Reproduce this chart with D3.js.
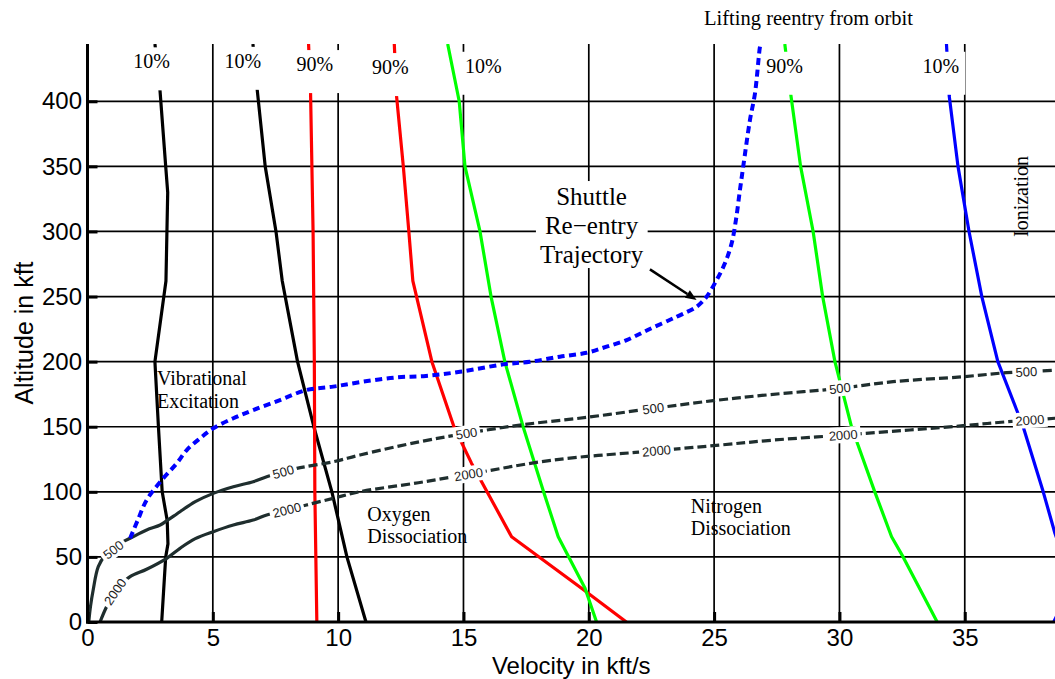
<!DOCTYPE html>
<html>
<head>
<meta charset="utf-8">
<script src="https://cdn.jsdelivr.net/npm/d3@7"></script>
<style>
  body { margin: 0; background: #fff; }
  svg { display: block; }
</style>
</head>
<body>
<svg id="chart" width="1055" height="679"></svg>
<script>
// ---- Axis ticks -------------------------------------------------------
const velocityTicks = [0, 5, 10, 15, 20, 25, 30, 35];           // kft/s
const altitudeTicks = [0, 50, 100, 150, 200, 250, 300, 350, 400]; // kft

// ---- Boundary curves: [velocity kft/s, altitude kft] ------------------
const vibration10 = [[2.96,0],[3.12,50],[3.21,60],[3.18,78],[2.98,100],[2.83,150],[2.69,200],[3.13,262],[3.2,330],[3.12,350],[2.89,409],[2.69,444]];
const vibration90 = [[9.15,0],[9.07,100],[9.05,200],[9.0,300],[8.9,406],[8.82,444]];
const oxygen10    = [[11.11,0],[10.35,50],[9.75,100],[9.03,150],[8.38,200],[7.77,262],[7.52,300],[7.09,350],[6.77,409],[6.6,444]];
const oxygen90    = [[21.5,0],[19.71,25.9],[16.92,65.5],[15.32,122],[14.62,150],[13.74,200],[12.98,262],[12.82,300],[12.6,350],[12.33,404],[12.24,444]];
const nitrogen10  = [[20.31,0],[19.85,25.9],[18.78,65.5],[18.18,101],[17.38,150],[16.65,200],[16.1,250],[15.66,300],[15.06,350],[14.83,400],[14.37,444]];
const nitrogen90  = [[33.9,0],[32.54,50],[32.08,65.5],[31.41,100],[30.48,150],[29.82,200],[29.33,250],[28.95,300],[28.45,350],[28.06,405],[27.82,444]];
const ionization10 = [[38.75,60],[38.6,68],[38.13,100],[37.33,150],[36.32,200],[35.68,250],[35.17,300],[34.73,350],[34.38,404],[34.27,444]];
const ionization90 = [[38.55,0],[38.75,8]];

// ---- Percentage labels at the top of each boundary ---------------------
const boundaryLabelText = ["10%", "10%", "90%", "90%", "10%", "90%", "10%"];
const boundaryLabelV    = [2.56, 6.2, 9.07, 12.08, 15.79, 27.81, 34.05];
const boundaryLabelAlt  = [425.3, 425.7, 423.2, 420.9, 421.9, 421.9, 421.9];

// ---- Shuttle re-entry trajectory ---------------------------------------
const trajectory = [[1.70,64.3],[2.0,78],[2.36,93.7],[2.96,109],[3.56,121.9],[3.96,132.1],[4.49,141.1],[5.02,148.8],[5.82,156.5],[6.61,162.8],[7.68,170.5],[8.74,178.2],[9.8,180.8],[11.0,184.6],[12.33,187.9],[13.5,189],[14.86,192.2],[16.59,197.9],[17.65,199.9],[18.85,203.8],[19.91,206.8],[20.71,211.5],[21.51,216.6],[22.37,224.5],[23.5,234.5],[24.3,242.2],[24.7,249.9],[25.1,262.7],[25.43,275.5],[25.7,290.9],[25.87,308.8],[26.03,331.8],[26.16,349.7],[26.43,385.6],[26.63,406],[26.83,441.9],[26.86,444]];

// ---- Heating contours (500 and 2000) -----------------------------------
const contour500  = [[0.05,0],[0.12,12],[0.23,25],[0.43,42.5],[0.7,51],[1.03,55.5],[1.43,61.7],[1.7,64.3],[2.36,70.7],[2.9,74.5],[3.18,78],[3.45,81.5],[3.69,84.7],[4.3,92.4],[5.02,98.8],[5.82,103.9],[6.61,107.8],[7.15,111.6],[7.81,115.4],[8.35,118],[9.8,123.1],[10.87,128.3],[13.26,138.5],[15.12,144.9],[17.25,151.3],[19.91,157.2],[22.57,164.1],[24.96,170],[27.2,174.6],[30.02,179.5],[32.14,184.6],[34.93,188.4],[36.67,191.5],[38.6,193.5],[39.5,195]];
const contour2000 = [[0.5,0],[0.7,9.2],[0.9,17],[1.1,23.3],[1.3,28],[1.7,34.8],[2.36,40.5],[3.16,48.9],[3.69,56.6],[4.3,64],[5.02,69.4],[5.82,74.5],[6.61,78.3],[7.15,82.2],[7.95,86],[8.74,89.9],[9.8,95],[10.87,100.1],[13.2,107],[15.2,113.5],[18.58,124.4],[22.7,131.6],[25.23,135.9],[27.4,139.8],[30.15,143.6],[32.81,147.5],[34.93,150.8],[36.67,153.8],[38.6,156.5],[39.5,158]];
const contourLevels = ["500", "2000"];
const contour500LabelV  = [1.03, 7.81, 15.12, 22.57, 30.02, 37.46];
const contour2000LabelV = [1.1, 7.95, 15.2, 22.7, 30.15, 37.6];

// ---- Region annotations ------------------------------------------------
const regionNames = [["Vibrational", "Excitation"], ["Oxygen", "Dissociation"], ["Nitrogen", "Dissociation"]];
const regionV     = [2.77, 11.16, 24.07];
const regionAlt   = [182, 77.6, 83.9];
const trajectoryNote = ["Shuttle", "Re\u2212entry", "Trajectory"];

// ---------------------------------------------------------------------
const SERIF = "'Liberation Serif', 'Times New Roman', serif";
const SANS  = "'Liberation Sans', Arial, sans-serif";

const svg = d3.select("#chart");
const x = d3.scaleLinear().domain([0, 38.6]).range([87.5, 1055]);
const y = d3.scaleLinear().domain([0, 444]).range([622, 44]);
const px = d => [x(d[0]), y(d[1])];

svg.append("defs").append("clipPath").attr("id", "plot-clip")
  .append("rect")
  .attr("x", x(0)).attr("y", y(444))
  .attr("width", x(38.6) - x(0)).attr("height", y(0) - y(444));

// grid
const grid = svg.append("g").attr("stroke", "#000").attr("stroke-width", 1.7);
grid.selectAll("line.v").data(velocityTicks.filter(v => v > 0)).join("line")
  .attr("x1", d => x(d)).attr("x2", d => x(d))
  .attr("y1", y(0)).attr("y2", y(444));
grid.selectAll("line.h").data(altitudeTicks.filter(a => a > 0)).join("line")
  .attr("x1", x(0)).attr("x2", x(38.6))
  .attr("y1", d => y(d)).attr("y2", d => y(d));

const plot = svg.append("g").attr("clip-path", "url(#plot-clip)");
const straight = d3.line().x(d => x(d[0])).y(d => y(d[1]));
const smooth = d3.line().x(d => x(d[0])).y(d => y(d[1])).curve(d3.curveCatmullRom.alpha(0.5));

// boundary curves
const boundaries = [
  [vibration10, "#000000"], [oxygen10, "#000000"],
  [vibration90, "#ff0000"], [oxygen90, "#ff0000"],
  [nitrogen10, "#00ff00"], [nitrogen90, "#00ff00"],
  [ionization10, "#0000ff"], [ionization90, "#0000ff"]
];
boundaries.forEach(([pts, color]) => {
  plot.append("path").attr("d", straight(pts))
    .attr("fill", "none").attr("stroke", color)
    .attr("stroke-width", 3.2).attr("stroke-linejoin", "round");
});

// contour helpers
function altAt(pts, v) {
  for (let i = 1; i < pts.length; i++) {
    if (v <= pts[i][0]) {
      const [v0, a0] = pts[i - 1], [v1, a1] = pts[i];
      return a0 + (a1 - a0) * (v - v0) / (v1 - v0);
    }
  }
  return pts[pts.length - 1][1];
}

const contourColor = "#1f2e2e";
const contours = [[contour500, contour500LabelV], [contour2000, contour2000LabelV]];
contours.forEach(([pts, labelV]) => {
  const split = labelV[1];
  const mid = [split, altAt(pts, split)];
  const solidPart = pts.filter(p => p[0] < split).concat([mid]);
  const dashedPart = [mid].concat(pts.filter(p => p[0] > split));
  plot.append("path").attr("d", smooth(solidPart))
    .attr("fill", "none").attr("stroke", contourColor).attr("stroke-width", 3.2);
  plot.append("path").attr("d", smooth(dashedPart))
    .attr("fill", "none").attr("stroke", contourColor).attr("stroke-width", 3.2)
    .attr("stroke-dasharray", "9,4");
});

// inline contour labels
const labelLayer = svg.append("g");
contours.forEach(([pts, labelV], ci) => {
  labelV.forEach(v => {
    const [cx, cy] = px([v, altAt(pts, v)]);
    const lo = Math.max(pts[0][0], v - 0.3);
    const [ax, ay] = px([lo, altAt(pts, lo)]);
    const [bx, by] = px([v + 0.3, altAt(pts, v + 0.3)]);
    const angle = Math.atan2(by - ay, bx - ax) * 180 / Math.PI;
    const g = labelLayer.append("g").attr("transform", `translate(${cx},${cy}) rotate(${angle})`);
    const rect = g.append("rect").attr("fill", "#fff");
    const t = g.append("text").text(contourLevels[ci])
      .attr("text-anchor", "middle").attr("dy", "0.36em")
      .attr("font-family", SANS).attr("font-size", 13).attr("fill", "#222");
    const w = t.node().getComputedTextLength();
    rect.attr("x", -w / 2 - 3).attr("y", -8).attr("width", w + 6).attr("height", 16);
  });
});

// percentage labels at the top
boundaryLabelText.forEach((txt, i) => {
  const cx = x(boundaryLabelV[i]), base = y(boundaryLabelAlt[i]);
  const g = svg.append("g");
  const rect = g.append("rect").attr("fill", "#fff");
  const t = g.append("text").text(txt)
    .attr("x", cx).attr("y", base).attr("text-anchor", "middle")
    .attr("font-family", SERIF).attr("font-size", 20).attr("fill", "#000");
  const w = t.node().getComputedTextLength();
  rect.attr("x", cx - w / 2 - 4).attr("y", base - 21)
    .attr("width", w + 10).attr("height", 43);
});

// axes
const xAxis = d3.axisBottom(x).tickValues(velocityTicks)
  .tickSizeInner(-10).tickSizeOuter(0).tickPadding(7);
const yAxis = d3.axisLeft(y).tickValues(altitudeTicks)
  .tickSizeInner(-10).tickSizeOuter(0).tickPadding(5.5);

const gx = svg.append("g").attr("transform", `translate(0,${y(0)})`).call(xAxis);
const gy = svg.append("g").attr("transform", `translate(${x(0)},0)`).call(yAxis);
[gx, gy].forEach(g => {
  g.select(".domain").remove();
  g.selectAll(".tick line").attr("stroke", "#000").attr("stroke-width", 3);
  g.selectAll(".tick text").attr("font-family", SANS).attr("font-size", 24).attr("fill", "#000");
});
svg.append("line").attr("x1", x(0)).attr("x2", x(0)).attr("y1", y(444)).attr("y2", y(0) + 1.5)
  .attr("stroke", "#000").attr("stroke-width", 3);
svg.append("line").attr("x1", x(0) - 1.5).attr("x2", x(38.6)).attr("y1", y(0)).attr("y2", y(0))
  .attr("stroke", "#000").attr("stroke-width", 3);

// axis titles
svg.append("text").text("Velocity in kft/s")
  .attr("x", (x(0) + x(38.6)) / 2).attr("y", 674).attr("text-anchor", "middle")
  .attr("font-family", SANS).attr("font-size", 24).attr("fill", "#000");
svg.append("text").text("Altitude in kft")
  .attr("transform", `translate(33,${(y(0) + y(444)) / 2}) rotate(-90)`)
  .attr("text-anchor", "middle")
  .attr("font-family", SANS).attr("font-size", 25).attr("fill", "#000");

// trajectory
plot.append("path").attr("d", smooth(trajectory))
  .attr("fill", "none").attr("stroke", "#0000ff")
  .attr("stroke-width", 4).attr("stroke-dasharray", "7,4.5");

// region names
regionNames.forEach((lines, i) => {
  const t = svg.append("text")
    .attr("font-family", SERIF).attr("font-size", 20).attr("fill", "#000");
  lines.forEach((ln, j) => {
    t.append("tspan").text(ln)
      .attr("x", x(regionV[i])).attr("y", y(regionAlt[i]) + j * 22.5);
  });
});

svg.append("text").text("Ionization")
  .attr("transform", `translate(${x(37.51)},${y(326.9)}) rotate(-90)`)
  .attr("text-anchor", "middle")
  .attr("font-family", SERIF).attr("font-size", 20).attr("fill", "#000");

svg.append("text").text("Lifting reentry from orbit")
  .attr("x", x(24.6)).attr("y", y(458.5))
  .attr("font-family", SERIF).attr("font-size", 20.5).attr("fill", "#000");

// trajectory callout with white backing
const note = svg.append("g");
const noteRect = note.append("rect").attr("fill", "#fff");
const noteText = note.append("text")
  .attr("text-anchor", "middle")
  .attr("font-family", SERIF).attr("font-size", 25).attr("fill", "#000");
trajectoryNote.forEach((ln, j) => {
  noteText.append("tspan").text(ln)
    .attr("x", x(20.11)).attr("y", y(320.3) + j * 29);
});
const bb = noteText.node().getBBox();
noteRect.attr("x", bb.x - 4).attr("y", bb.y - 2)
  .attr("width", bb.width + 8).attr("height", bb.height + 2);

// arrow to the trajectory
const tail = px([22.44, 270.9]), tip = px([24.3, 247.3]);
const ang = Math.atan2(tip[1] - tail[1], tip[0] - tail[0]);
const headLen = 11, headHalf = 4.5;
const base = [tip[0] - headLen * Math.cos(ang), tip[1] - headLen * Math.sin(ang)];
svg.append("line")
  .attr("x1", tail[0]).attr("y1", tail[1]).attr("x2", base[0]).attr("y2", base[1])
  .attr("stroke", "#000").attr("stroke-width", 2.5);
svg.append("polygon")
  .attr("points", [
    tip,
    [base[0] + headHalf * Math.sin(ang), base[1] - headHalf * Math.cos(ang)],
    [base[0] - headHalf * Math.sin(ang), base[1] + headHalf * Math.cos(ang)]
  ].map(p => p.join(",")).join(" "))
  .attr("fill", "#000");
</script>
</body>
</html>
